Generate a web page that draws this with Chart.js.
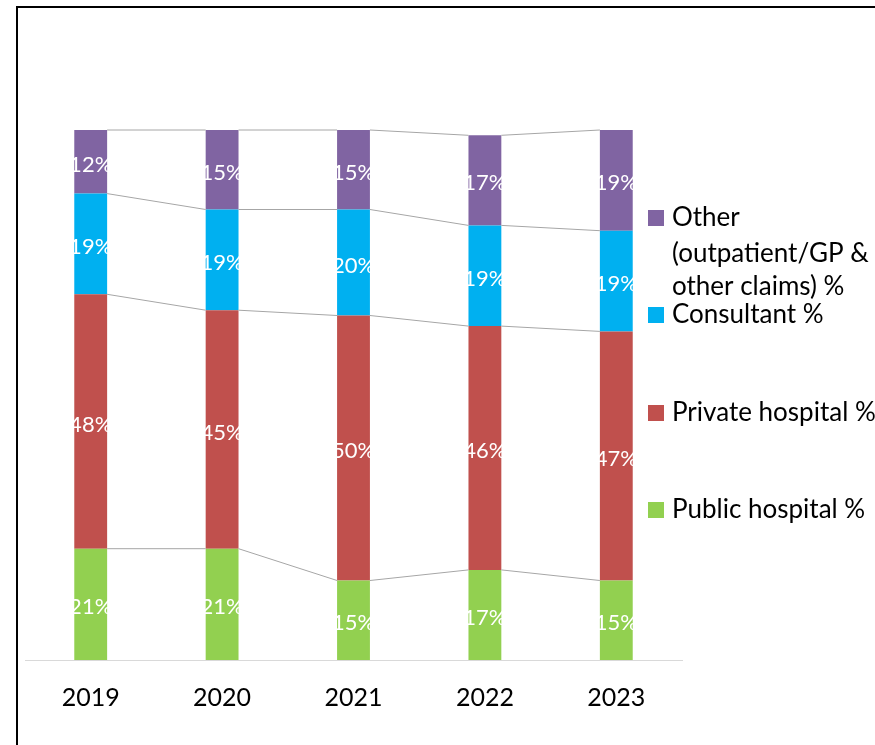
<!DOCTYPE html>
<html>
<head>
<meta charset="utf-8">
<script src="https://cdn.jsdelivr.net/npm/chart.js@4/dist/chart.umd.min.js"></script>
<style>
    html, body { margin: 0; padding: 0; background: #fff; }
    #wrap { position: relative; width: 875px; height: 745px; overflow: hidden; }
    #marco { position: absolute; left: 16px; top: 6px; width: 1000px; height: 1000px; border: 2px solid #000; box-sizing: border-box; }
    canvas { position: absolute; left: 0; top: 0; }
</style>
</head>
<body>
<div id="wrap">
    <div id="marco"></div>
    <canvas id="grafico1" width="875" height="745"></canvas>
</div>
<script>
// datos del grafico
const anios = ["2019", "2020", "2021", "2022", "2023"];
const publico = [21, 21, 15, 17, 15];
const privado = [48, 45, 50, 46, 47];
const consultor = [19, 19, 20, 19, 19];
const otros = [12, 15, 15, 17, 19];

const nombres = ["Public hospital %", "Private hospital %", "Consultant %", "Other\n(outpatient/GP &\nother claims) %"];
const colores = ["#92D050", "#C0504D", "#00B0F0", "#8064A2"];

const fuente = "Lato, 'Noto Sans', sans-serif";

// lineas entre barras (series lines)
const lineasSerie = {
    id: "lineasSerie",
    afterDatasetsDraw(chart){
        let ctx = chart.ctx;
        ctx.save();
        ctx.strokeStyle = "#a6a6a6";
        ctx.lineWidth = 1;
        chart.data.datasets.forEach(function(ds, i){
            let barras = chart.getDatasetMeta(i).data;
            for (let j = 0; j < barras.length - 1; j++){
                let a = barras[j], b = barras[j + 1];
                ctx.beginPath();
                ctx.moveTo(a.x + a.width / 2, a.y);
                ctx.lineTo(b.x - b.width / 2, b.y);
                ctx.stroke();
            }
        });
        ctx.restore();
    }
};

// etiquetas blancas dentro de cada segmento
const etiquetas = {
    id: "etiquetas",
    afterDatasetsDraw(chart){
        let ctx = chart.ctx;
        ctx.save();
        ctx.fillStyle = "#ffffff";
        ctx.font = "22px " + fuente;
        ctx.textAlign = "center";
        ctx.textBaseline = "middle";
        chart.data.datasets.forEach(function(ds, i){
            chart.getDatasetMeta(i).data.forEach(function(el, j){
                ctx.fillText(ds.data[j] + "%", el.x, (el.y + el.base) / 2 + 3);
            });
        });
        ctx.restore();
    }
};

// leyenda a la derecha, de arriba hacia abajo
const leyenda = {
    id: "leyenda",
    afterDraw(chart){
        let ctx = chart.ctx;
        let filas = [218, 315, 413, 510];
        ctx.save();
        ctx.font = "26px " + fuente;
        ctx.textBaseline = "middle";
        ctx.textAlign = "left";
        let orden = [3, 2, 1, 0];
        orden.forEach(function(k, n){
            let ds = chart.data.datasets[k];
            let y = filas[n];
            ctx.fillStyle = ds.backgroundColor;
            ctx.fillRect(648, y - 8, 16, 16);
            ctx.fillStyle = "#000";
            ds.label.split("\n").forEach(function(linea, m){
                let dy = [0, 36, 69][m];
                ctx.fillText(linea, 672, y + dy);
            });
        });
        ctx.restore();
    }
};

const series = [publico, privado, consultor, otros];

new Chart(document.getElementById("grafico1"), {
    type: "bar",
    data: {
        labels: anios,
        datasets: series.map(function(valores, i){
            return {
                label: nombres[i],
                data: valores,
                backgroundColor: colores[i],
                borderWidth: 0,
                categoryPercentage: 1,
                barPercentage: 0.25
            };
        })
    },
    options: {
        responsive: false,
        animation: false,
        layout: { padding: { left: 25, right: 193, top: 130, bottom: 9 } },
        plugins: {
            legend: { display: false },
            tooltip: { enabled: false }
        },
        scales: {
            x: {
                stacked: true,
                grid: { display: false, drawTicks: false },
                border: { display: true, color: "#d9d9d9", width: 1 },
                ticks: { color: "#000", font: { family: fuente, size: 25 }, padding: 23 }
            },
            y: {
                stacked: true,
                display: false,
                min: 0,
                max: 100
            }
        }
    },
    plugins: [lineasSerie, etiquetas, leyenda]
});
</script>
</body>
</html>
